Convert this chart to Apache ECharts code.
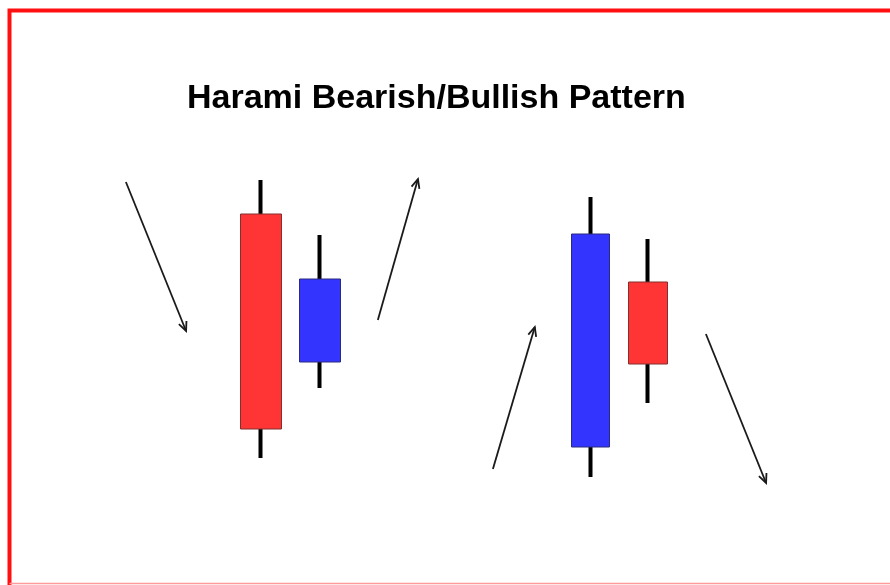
<!DOCTYPE html>
<html>
<head>
<meta charset="utf-8">
<title>Harami Bearish/Bullish Pattern</title>
<script src="https://cdn.jsdelivr.net/npm/echarts@6/dist/echarts.min.js"></script>
<style>
	html, body { margin: 0; padding: 0; background: #fff; }
	#chart { width: 890px; height: 585px; }
</style>
</head>
<body>
<div id="chart"></div>
<script>
// candles: x = session, then open / close / low / high
var candleX = [4.0, 5.0, 9.58, 10.56];
var openV = [31.6, 16.8, 8.3, 24.8];
var closeV = [10.1, 25.1, 29.6, 16.6];
var lowV = [7.2, 14.2, 5.3, 12.7];
var highV = [35.0, 29.5, 33.3, 29.1];

// trend arrows (from -> to)
var arrowFromX = [1.71, 5.98, 7.93, 11.54];
var arrowFromY = [34.8, 21.0, 6.1, 19.6];
var arrowToX = [2.73, 6.66, 8.64, 12.56];
var arrowToY = [19.9, 35.1, 20.3, 4.7];

var titleText = 'Harami Bearish/Bullish Pattern';

//wick series : full range, thin black
var wickData = [];
for (var i = 0; i < candleX.length; i++) {
	wickData.push([candleX[i], openV[i], closeV[i], lowV[i], highV[i]]);
}
//body series : low/high clipped to the body so no wick shows
function bodyData(from, to) {
	var arr = [];
	for (var j = from; j < to; j++) {
		arr.push([candleX[j], openV[j], closeV[j], Math.min(openV[j], closeV[j]), Math.max(openV[j], closeV[j])]);
	}
	return arr;
}
var arrowData = [];
for (var k = 0; k < arrowFromX.length; k++) {
	arrowData.push([arrowFromX[k], arrowFromY[k], arrowToX[k], arrowToY[k]]);
}

var bodyStyle = {
	color: '#3434ff',
	color0: '#ff3535',
	borderColor: '#2a2a80',
	borderColor0: '#803030',
	borderWidth: 1
};

var myChart = echarts.init(document.getElementById('chart'));
var option = {
	backgroundColor: '#ffffff',
	animation: false,
	title: {
		text: titleText,
		left: 187,
		top: 82,
		padding: 0,
		textStyle: {
			fontFamily: 'Liberation Sans, Arial, sans-serif',
			fontWeight: 'bold',
			fontSize: 34,
			color: '#000'
		}
	},
	grid: { left: 25, top: 30, right: 0, height: 500 },
	xAxis: { type: 'value', min: 0, max: 14.66, show: false },
	yAxis: { type: 'value', min: 0, max: 50, show: false },
	graphic: [
		{
			type: 'polyline',
			shape: { points: [[9.5, 590], [9.5, 10.5], [900, 10.5]] },
			style: { stroke: '#ff1010', lineWidth: 4, fill: null }
		},
		{
			type: 'line',
			shape: { x1: 9.5, y1: 583.5, x2: 900, y2: 583.5 },
			style: { stroke: '#ff9a9a', lineWidth: 1.5 }
		}
	],
	series: [
		{
			type: 'candlestick',
			name: 'wick',
			barWidth: 1,
			data: wickData,
			itemStyle: {
				color: '#000',
				color0: '#000',
				borderColor: '#000',
				borderColor0: '#000',
				borderWidth: 4
			},
			z: 2
		},
		{
			type: 'candlestick',
			name: 'bullish harami',
			barWidth: 42,
			data: bodyData(0, 2),
			itemStyle: bodyStyle,
			z: 3
		},
		{
			type: 'candlestick',
			name: 'bearish harami',
			barWidth: 39,
			data: bodyData(2, 4),
			itemStyle: bodyStyle,
			z: 3
		},
		{
			type: 'custom',
			name: 'trend',
			data: arrowData,
			encode: { x: [0, 2], y: [1, 3] },
			renderItem: function (params, api) {
				var p1 = api.coord([api.value(0), api.value(1)]);
				var p2 = api.coord([api.value(2), api.value(3)]);
				var ang = Math.atan2(p2[1] - p1[1], p2[0] - p1[0]);
				var len = 10, spread = 0.42;
				var h1 = [p2[0] - len * Math.cos(ang - spread), p2[1] - len * Math.sin(ang - spread)];
				var h2 = [p2[0] - len * Math.cos(ang + spread), p2[1] - len * Math.sin(ang + spread)];
				var st = { stroke: '#1a1a1a', lineWidth: 1.8, fill: null };
				return {
					type: 'group',
					children: [
						{ type: 'line', shape: { x1: p1[0], y1: p1[1], x2: p2[0], y2: p2[1] }, style: st },
						{ type: 'polyline', shape: { points: [h1, p2, h2] }, style: st }
					]
				};
			},
			z: 4
		}
	]
};
myChart.setOption(option);
</script>
</body>
</html>
